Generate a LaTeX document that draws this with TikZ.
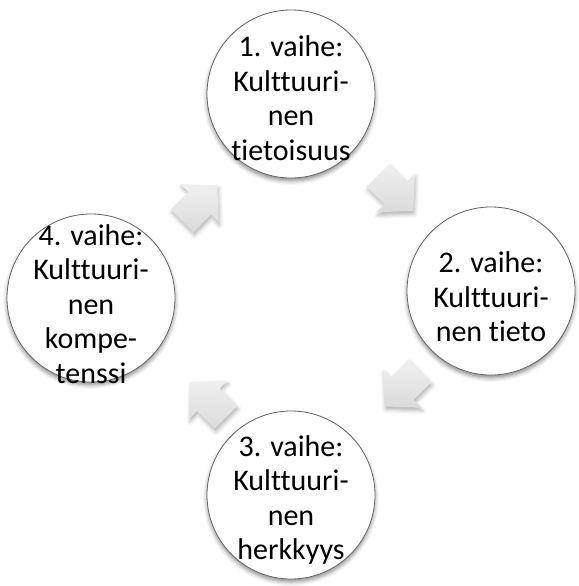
\documentclass[tikz,border=0pt]{standalone}
\usepackage{fontspec}
\setmainfont{Carlito}[Ligatures=NoCommon]
\usetikzlibrary{shadows.blur,calc}
\begin{document}
\begin{tikzpicture}[x=1pt,y=-1pt,
  stage/.style={circle, draw=black!60, line width=0.8pt, fill=white,
    minimum size=168pt, inner sep=0pt,
    blur shadow={shadow xshift=0pt, shadow yshift=-3pt, shadow blur radius=4pt, shadow opacity=45}},
  stagetext/.style={align=center, inner sep=0pt, font=\fontsize{30}{34.5}\selectfont},
  blockarrow/.style={top color=black!6, bottom color=black!14, draw=none,
    blur shadow={shadow xshift=1pt, shadow yshift=-3pt, shadow blur radius=4pt, shadow opacity=30}}
]
\useasboundingbox (0,0) rectangle (578,586);
\node[stage] (s1) at (291,94) {};
\node[stage] (s2) at (491,291) {};
\node[stage] (s3) at (291,495) {};
\node[stage] (s4) at (91,298) {};
\node[stagetext] (t1) at ($(s1)+(0,4)$) {1. vaihe:\\Kulttuuri-\\nen\\tietoisuus};
\node[stagetext] (t2) at ($(s2)+(0,6)$) {2. vaihe:\\Kulttuuri-\\nen tieto};
\node[stagetext] (t3) at ($(s3)+(0,5)$) {3. vaihe:\\Kulttuuri-\\nen\\herkkyys};
\node[stagetext] (t4) at ($(s4)+(0,6)$) {4. vaihe:\\Kulttuuri-\\nen\\kompe-\\tenssi};
% block arrows between stages
\coordinate (a12) at ($(s1)!0.5!(s2)+(4,0)$);
\coordinate (a23) at ($(s2)!0.5!(s3)+(12,-5)$);
\coordinate (a34) at ($(s3)!0.5!(s4)+(18,4)$);
\coordinate (a41) at ($(s4)!0.5!(s1)+(8,8)$);
\foreach \c/\ang in {a12/-45, a23/-135, a34/135, a41/45}{
  \path[blockarrow, shift={(\c)}, rotate=\ang]
    (-24,-16) -- (1,-16) -- (1,-27) -- (26,0) -- (1,27) -- (1,16) -- (-24,16) -- cycle;
}
\end{tikzpicture}
\end{document}
